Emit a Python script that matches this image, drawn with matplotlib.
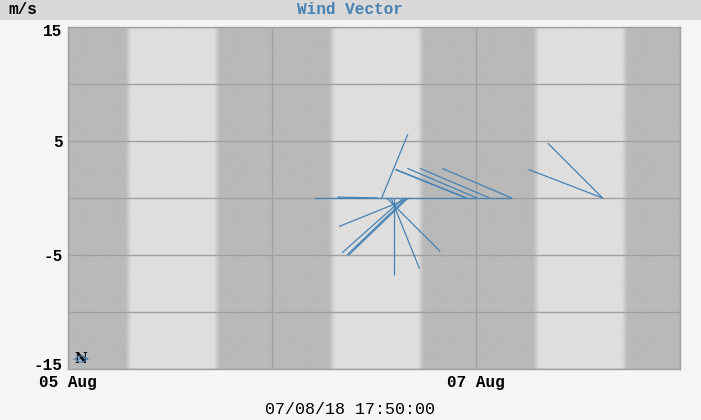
import datetime as dt
import numpy as np
import matplotlib
matplotlib.use("Agg")
import matplotlib.pyplot as plt
import matplotlib.dates as mdates
import matplotlib.transforms as mtrans
from matplotlib.patches import Rectangle, Circle

# wind vectors: start time, x component, y component (m/s)
times = ["2018-08-07 04:12", "2018-08-06 12:30", "2018-08-06 12:54",
         "2018-08-06 22:48", "2018-08-06 22:54", "2018-08-07 00:06",
         "2018-08-07 01:36", "2018-08-07 04:12", "2018-08-07 14:54",
         "2018-08-07 14:54", "2018-08-06 14:24", "2018-08-06 14:00",
         "2018-08-06 13:30", "2018-08-06 16:12", "2018-08-06 15:30",
         "2018-08-06 15:48", "2018-08-06 16:00"]
u_comp = [-17.3, -3.6, 2.3, -6.2, -6.2, -6.1, -6.1, -6.1, -6.5, -4.8,
          0.0, 2.5, 4.7, -6.2, -5.4, -5.2, -5.2]
v_comp = [0.0, 0.08, 5.6, 2.5, 2.5, 2.6, 2.6, 2.6, 2.5, 4.8,
          -6.75, -6.2, -4.7, -2.5, -4.8, -5.0, -5.0]

# sunrise / sunset (hours of day) for day/night shading
sunrise = [7.1, 7.1, 7.1]
sunset = [17.5, 17.5, 17.5]
days = ["2018-08-05", "2018-08-06", "2018-08-07"]

y_ticks = [-15, -10, -5, 0, 5, 10, 15]
y_labels = ["-15", "", "-5", "", "5", "", "15"]
x_labels = ["05 Aug", "", "07 Aug", ""]

W, H = 701, 420
fig = plt.figure(figsize=(W / 100, H / 100), dpi=100, facecolor="#f5f5f5")
left, right, top, bottom = 68, 680, 27, 369
ax = fig.add_axes([left / W, (H - bottom) / H, (right - left) / W, (bottom - top) / H])

start = dt.datetime(2018, 8, 5)
end = dt.datetime(2018, 8, 8)
x0, x1 = mdates.date2num(start), mdates.date2num(end)

# day/night background
xs = np.linspace(x0, x1, 3000)
light = np.zeros_like(xs)
ramp = 0.35 / 24
for d, sr, ss in zip(days, sunrise, sunset):
    base = mdates.date2num(dt.datetime.strptime(d, "%Y-%m-%d"))
    a = base + sr / 24
    b = base + ss / 24
    up = np.clip((xs - (a - ramp)) / (2 * ramp), 0, 1)
    down = np.clip(((b + ramp) - xs) / (2 * ramp), 0, 1)
    light = np.maximum(light, np.minimum(up, down))
dark_c, light_c = 185 / 255, 222 / 255
shade = dark_c + (light_c - dark_c) * light
img = np.tile(shade, (2, 1))
ax.imshow(img, cmap="gray", vmin=0, vmax=1, aspect="auto",
          extent=[x0, x1, -15, 15], interpolation="bilinear", zorder=0)

ax.set_xlim(x0, x1)
ax.set_ylim(-15, 15)

# vectors drawn with equal px per m/s in both directions
scale = (x1 - x0) / (right - left) * (bottom - top) / 30.0
for t, u, v in zip(times, u_comp, v_comp):
    tn = mdates.date2num(dt.datetime.strptime(t, "%Y-%m-%d %H:%M"))
    ax.plot([tn, tn + u * scale], [0, v], color="#4682b4", lw=0.9,
            solid_capstyle="butt", zorder=3)

xt = [x0 + i for i in range(4)]
ax.set_xticks(xt)
ax.set_xticklabels(x_labels)
ax.set_yticks(y_ticks)
ax.set_yticklabels(y_labels)
ax.grid(True, color="#a0a0a0", lw=1.0, zorder=1)
for gl in ax.get_xgridlines() + ax.get_ygridlines():
    gl.set_zorder(1)
ax.tick_params(length=0, pad=4)
mono = "Liberation Mono"
for lab in ax.get_xticklabels() + ax.get_yticklabels():
    lab.set_fontfamily(mono)
    lab.set_fontweight("bold")
    lab.set_fontsize(11.5)
# end labels sit just inside the plot box
ylabs = ax.get_yticklabels()
ylabs[0].set_transform(ylabs[0].get_transform() +
                       mtrans.ScaledTranslation(0, 5 / 100, fig.dpi_scale_trans))
ylabs[-1].set_transform(ylabs[-1].get_transform() +
                        mtrans.ScaledTranslation(0, -3 / 100, fig.dpi_scale_trans))
for s in ax.spines.values():
    s.set_color("#a0a0a0")
    s.set_linewidth(1.0)

# title band
fig.patches.append(Rectangle((0, (H - 20) / H), 1, 20 / H, transform=fig.transFigure,
                             facecolor="#d8d8d8", edgecolor="none", zorder=0))
fig.text(350 / W, 1 - 9 / H, "Wind Vector", ha="center", va="center",
         family=mono, fontweight="bold", fontsize=11.5, color="#4682b4")
fig.text(8 / W, 1 - 9 / H, "m/s", ha="left", va="center",
         family=mono, fontweight="bold", fontsize=11.5, color="black")
fig.text(350 / W, 1 - 410 / H, "07/08/18 17:50:00", ha="center", va="center",
         family=mono, fontsize=12, color="black")

# compass marker
fig.patches.append(Circle((81 / W, 1 - 359 / H), 5 / W, transform=fig.transFigure,
                          facecolor="none", edgecolor="#4682b4", lw=0.8, zorder=5))
ax.annotate("", xy=(92, H - 359), xytext=(71, H - 359), xycoords="figure pixels",
            textcoords="figure pixels",
            arrowprops=dict(arrowstyle="->", color="#4682b4", lw=0.8))
fig.text(81 / W, 1 - 359 / H, "N", ha="center", va="center",
         family="DejaVu Serif", fontweight="bold", fontsize=10, color="black")

fig.savefig("out.png", dpi=100, facecolor=fig.get_facecolor())
